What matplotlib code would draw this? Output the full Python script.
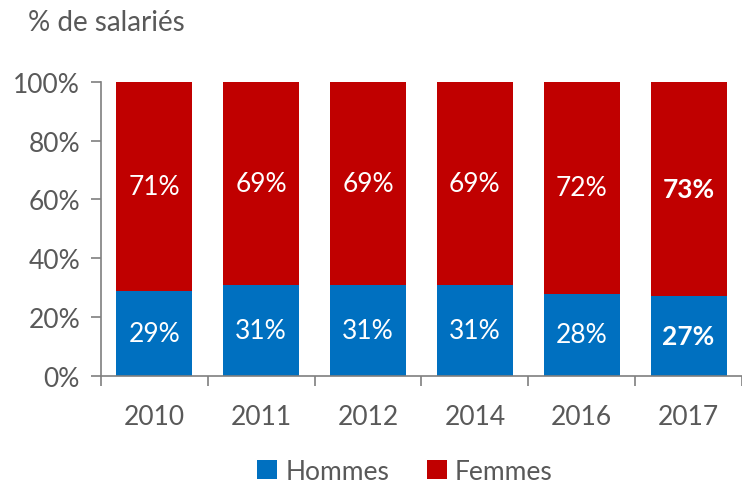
import numpy as np
import matplotlib
matplotlib.use("Agg")
import matplotlib.pyplot as plt
from matplotlib.ticker import MultipleLocator, PercentFormatter

# Data
years = ["2010", "2011", "2012", "2014", "2016", "2017"]
hommes = [29, 31, 31, 31, 28, 27]
femmes = [71, 69, 69, 69, 72, 73]
bold_years = ["2017"]

blue = "#0070C0"
red = "#C00000"
grey = "#595959"

plt.rcParams["font.family"] = ["Lato", "DejaVu Sans"]

fig = plt.figure(figsize=(7.42, 4.85), dpi=100)
ax = fig.add_axes([0.136, 0.223, 0.864, 0.606])

x = np.arange(len(years))
w = 0.71
b1 = ax.bar(x, hommes, w, color=blue, label="Hommes")
b2 = ax.bar(x, femmes, w, bottom=hommes, color=red, label="Femmes")

for i, yr in enumerate(years):
    weight = "bold" if yr in bold_years else "normal"
    ax.text(x[i], hommes[i] / 2, f"{hommes[i]}%", ha="center", va="center",
            color="white", fontsize=19, fontweight=weight)
    ax.text(x[i], hommes[i] + femmes[i] / 2, f"{femmes[i]}%", ha="center",
            va="center", color="white", fontsize=19, fontweight=weight)

ax.set_xlim(-0.5, len(years) - 0.5)
ax.set_ylim(0, 100)
ax.yaxis.set_major_locator(MultipleLocator(20))
ax.yaxis.set_major_formatter(PercentFormatter(decimals=0))

# category labels centred, tick marks between categories
ax.set_xticks(x)
ax.set_xticklabels(years)
ax.set_xticks(np.arange(len(years) + 1) - 0.5, minor=True)
ax.tick_params(axis="x", which="major", length=0, pad=20, labelsize=19, labelcolor=grey)
ax.tick_params(axis="x", which="minor", length=7, width=1.2, color="#7f7f7f", direction="out")
ax.tick_params(axis="y", length=7, width=1.2, color="#7f7f7f", labelsize=19,
               labelcolor=grey, pad=8)

for s in ["top", "right"]:
    ax.spines[s].set_visible(False)
for s in ["left", "bottom"]:
    ax.spines[s].set_color("#7f7f7f")
    ax.spines[s].set_linewidth(1.2)

fig.text(0.038, 0.952, "% de salariés", fontsize=20, color=grey, va="center")

fig.legend(handles=[b1, b2], loc="center", bbox_to_anchor=(0.546, 0.026), ncol=2,
           frameon=False, fontsize=19, labelcolor=grey, handlelength=0.75,
           handleheight=0.75, columnspacing=1.45, handletextpad=0.3)

fig.savefig("out.png", dpi=100)
